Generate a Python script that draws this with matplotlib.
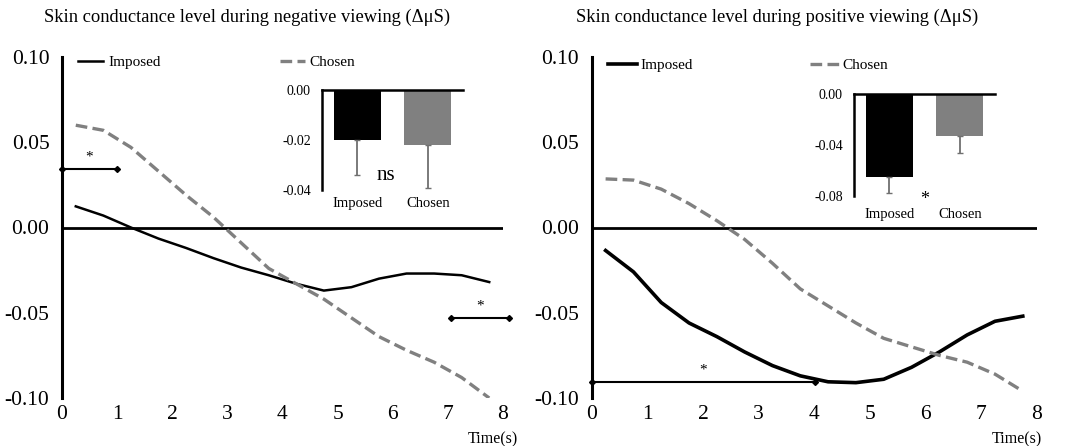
import numpy as np
import matplotlib
matplotlib.use("Agg")
from matplotlib import pyplot as plt

plt.rcParams['font.family'] = ['Liberation Serif', 'DejaVu Serif']
plt.rcParams['axes.unicode_minus'] = False

# time points (s)
t = [0.25, 0.75, 1.25, 1.75, 2.25, 2.75, 3.25, 3.75,
     4.25, 4.75, 5.25, 5.75, 6.25, 6.75, 7.25, 7.75]

neg_imposed = [0.0124, 0.007, 0.0, -0.0065, -0.012, -0.018, -0.0235, -0.028,
               -0.033, -0.037, -0.035, -0.030, -0.027, -0.027, -0.028, -0.032]
neg_chosen = [0.060, 0.057, 0.047, 0.033, 0.019, 0.006, -0.009, -0.024,
              -0.033, -0.042, -0.053, -0.064, -0.072, -0.079, -0.088, -0.100]
pos_imposed = [-0.0135, -0.026, -0.044, -0.056, -0.064, -0.073, -0.081, -0.087,
               -0.0905, -0.091, -0.089, -0.082, -0.073, -0.063, -0.055, -0.052]
pos_chosen = [0.0285, 0.0278, 0.0225, 0.014, 0.004, -0.007, -0.021, -0.036,
              -0.046, -0.056, -0.065, -0.070, -0.075, -0.079, -0.086, -0.096]

bar_labels = ['Imposed', 'Chosen']
neg_bar = [-0.020, -0.022]
neg_err = [0.014, 0.017]
pos_bar = [-0.065, -0.033]
pos_err = [0.013, 0.013]

# significance bars: (start, end, level)
neg_sig = [(0.0, 1.0, 0.0345), (7.05, 8.1, -0.053)]
pos_sig = [(0.0, 4.02, -0.0905)]

W, H = 1079, 446
fig = plt.figure(figsize=(W / 100, H / 100), dpi=100)


def px(l, t_, r, b):
    return [l / W, 1 - b / H, (r - l) / W, (b - t_) / H]


def panel(rect, inset_rect, title, title_x, imposed, chosen, lw_imp, sig,
          bars, errs, yt, inset_note, note_xy, note_size, xpad, leg, time_x):
    ax = fig.add_axes(px(*rect))
    ax.set_xlim(0, 8)
    ax.set_ylim(-0.10, 0.10)
    for s in ['top', 'right', 'bottom']:
        ax.spines[s].set_visible(False)
    ax.spines['left'].set_linewidth(2.2)
    ax.axhline(0, color='black', lw=2)
    l1, = ax.plot(t, imposed, color='black', lw=lw_imp, label='Imposed')
    l2, = ax.plot(t, chosen, color='#808080', lw=2.4, dashes=(3.5, 1.6),
                  label='Chosen')
    for x0, x1, yv in sig:
        ax.plot([x0, x1], [yv, yv], color='black', lw=1.5, marker='D',
                markersize=3, clip_on=False)
        ax.text((x0 + x1) / 2, yv + 0.003, '*', ha='center', va='bottom',
                fontsize=11)
    ax.set_yticks([-0.10, -0.05, 0.0, 0.05, 0.10])
    ax.set_yticklabels(['%.2f' % v for v in [-0.10, -0.05, 0.0, 0.05, 0.10]])
    ax.set_xticks(range(9))
    ax.tick_params(axis='both', length=0, labelsize=15.5)
    ax.tick_params(axis='y', pad=9)
    ax.tick_params(axis='x', pad=5)
    ax.text(time_x, -0.124, 'Time(s)', ha='right', va='center', fontsize=11.5,
            clip_on=False)
    ax.legend(handles=[l1, l2], loc='upper left', bbox_to_anchor=leg[0],
              ncol=2, frameon=False, fontsize=11, borderpad=0,
              handlelength=leg[1], handletextpad=leg[2],
              columnspacing=leg[3], borderaxespad=0)
    fig.text(title_x / W, 1 - 17 / H, title, ha='center', va='center',
             fontsize=13.3)

    ins = fig.add_axes(px(*inset_rect))
    ins.patch.set_visible(False)
    ins.bar(range(2), bars, width=0.667, color=['black', '#808080'],
            yerr=[errs, [0, 0]], ecolor='#707070',
            error_kw=dict(elinewidth=1.3, capsize=2, capthick=1.0))
    ins.set_xlim(-0.5, 1.5)
    ins.set_ylim(yt[-1], 0)
    for s in ['bottom', 'right']:
        ins.spines[s].set_visible(False)
    ins.spines['left'].set_linewidth(1.8)
    ins.spines['top'].set_linewidth(1.8)
    ins.set_yticks(yt)
    ins.set_yticklabels(['%.2f' % v for v in yt])
    ins.set_xticks(range(2))
    ins.set_xticklabels(bar_labels)
    ins.tick_params(axis='y', length=0, labelsize=10, pad=8)
    ins.tick_params(axis='x', length=0, labelsize=10.5, pad=xpad)
    ins.text(note_xy[0], note_xy[1], inset_note, ha='center', va='center',
             fontsize=note_size)
    return ax, ins


panel((62, 57, 503, 398), (322, 90, 463, 190),
      'Skin conductance level during negative viewing (\u0394\u03bcS)', 247,
      neg_imposed, neg_chosen, 1.8, neg_sig, neg_bar, neg_err,
      [0.0, -0.02, -0.04], 'ns', (0.4, -0.034), 15, 5,
      ((0.036, 1.005), 1.64, 0.33, 7.8), 8.28)

panel((591.7, 57, 1036.7, 398), (854, 94, 995, 196),
      'Skin conductance level during positive viewing (\u0394\u03bcS)', 777,
      pos_imposed, pos_chosen, 2.6, pos_sig, pos_bar, pos_err,
      [0.0, -0.04, -0.08], '*', (0.5, -0.083), 13, 9,
      ((0.037, 0.995), 1.9, 0.2, 7.7), 8.09)

fig.savefig('out.png', dpi=100)
